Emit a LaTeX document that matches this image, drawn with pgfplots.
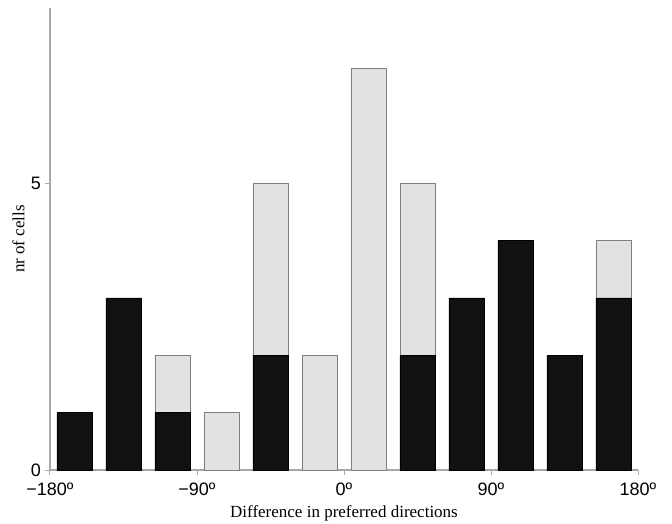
\documentclass[border=0pt]{standalone}
\usepackage{fontspec}
\setmainfont{Liberation Serif}
\setsansfont{Liberation Sans}
\usepackage{pgfplots}
\pgfplotsset{compat=1.18}
\definecolor{barblack}{HTML}{111111}
\definecolor{bargray}{HTML}{E2E2E2}
\definecolor{axgray}{HTML}{A8A8A8}
\begin{document}
\begin{tikzpicture}
\begin{axis}[
  name=ax,
  scale only axis,
  width=588pt, height=462pt,
  xmin=-180, xmax=180,
  ymin=0, ymax=8.05,
  axis lines*=left,
  axis line style={axgray, line width=1.2pt},
  ybar stacked,
  bar width=21.5,
  xtick={-180,-90,0,90,180},
  xticklabels={−180º,−90º,0º,90º,180º},
  ytick={0,5},
  yticklabels={0,5},
  tick align=outside,
  major tick length=5pt,
  tick style={axgray, line width=1pt},
  xticklabel style={font=\sffamily\fontsize{18}{18}\selectfont, inner sep=1pt, yshift=-7pt},
  yticklabel style={font=\sffamily\fontsize{18}{18}\selectfont, inner sep=2pt, xshift=-2pt},
  xlabel={Difference in preferred directions},
  ylabel={nr of cells},
  label style={font=\fontsize{17}{17}\selectfont},
  x label style={at={(axis description cs:0.5,0)}, anchor=base, yshift=-47pt},
  y label style={at={(axis description cs:-0.0374,0.5)}, anchor=south, rotate=0},
  clip=false,
]
\addplot[fill=barblack, draw=black, line width=0.6pt] coordinates {
  (-165,1) (-135,3) (-105,1) (-75,0) (-45,2) (-15,0)
  (15,0) (45,2) (75,3) (105,4) (135,2) (165,3)
};
\addplot[fill=bargray, draw=gray, line width=0.6pt] coordinates {
  (-165,0) (-135,0) (-105,1) (-75,1) (-45,3) (-15,2)
  (15,7) (45,3) (75,0) (105,0) (135,0) (165,1)
};
\end{axis}
\pgfresetboundingbox
\path ([shift={(-50pt,-53pt)}]ax.south west) rectangle ([shift={(34pt,8pt)}]ax.north east);
\end{tikzpicture}
\end{document}
